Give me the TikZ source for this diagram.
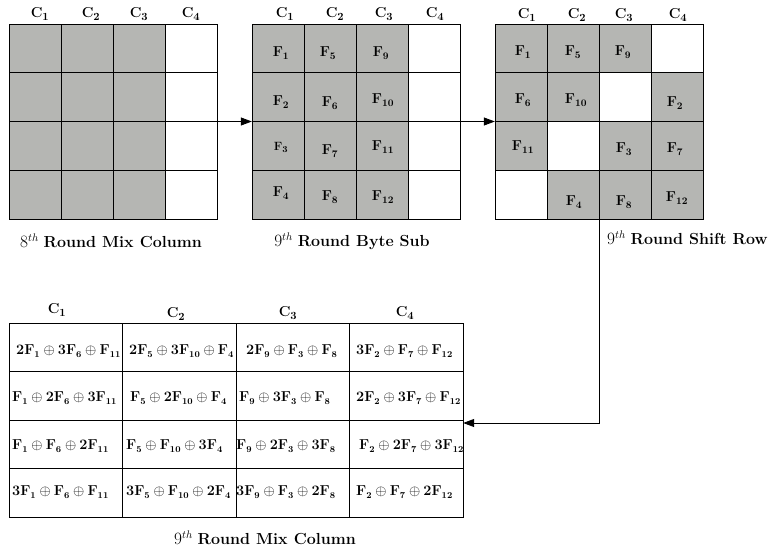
\documentclass[tikz,border=0pt]{standalone}
\usetikzlibrary{arrows.meta}
\definecolor{cellgray}{RGB}{181,182,179}
\begin{document}
\begin{tikzpicture}[x=1pt,y=-1pt,
  cellbox/.style={draw=black,line width=0.7pt,minimum width=52pt,minimum height=48.75pt,inner sep=0pt},
  flab/.style={inner sep=0pt,font=\fontsize{14.5}{17}\selectfont},
  tcell/.style={draw=black,line width=0.7pt,minimum width=113.5pt,minimum height=48.5pt,inner sep=0pt},
  tlab/.style={inner sep=0pt,anchor=west,font=\fontsize{13.3}{16}\selectfont},
  frame/.style={draw=none,inner sep=0pt,minimum width=208pt,minimum height=195pt},
  collab/.style={font=\fontsize{15}{18}\selectfont,inner sep=0pt},
  caption/.style={font=\fontsize{16}{19}\selectfont,inner sep=0pt},
  conn/.style={line width=0.8pt,-{Triangle[length=11pt,width=8pt]}}]
\useasboundingbox (0,0) rectangle (774,548);
% ---------- grid 1 ----------
\foreach \c/\r/\f in {0/0/cellgray,1/0/cellgray,2/0/cellgray,3/0/white,
                      0/1/cellgray,1/1/cellgray,2/1/cellgray,3/1/white,
                      0/2/cellgray,1/2/cellgray,2/2/cellgray,3/2/white,
                      0/3/cellgray,1/3/cellgray,2/3/cellgray,3/3/white}
  \node[cellbox,fill=\f] (a-\r-\c) at ({35+52*\c},{48.375+48.75*\r}) {};
\node[frame] (g1) at (113,121.5) {};
\foreach \c/\x in {1/40,2/91,3/139,4/191}
  \node[collab] (a-c\c) at (\x,14) {$\mathbf{C_{\c}}$};
\node[caption] (cap1) at (111,241) {$8^{th}$ \textbf{Round Mix Column}};
% ---------- grid 2 ----------
\foreach \c/\r/\f in {0/0/cellgray,1/0/cellgray,2/0/cellgray,3/0/white,
                      0/1/cellgray,1/1/cellgray,2/1/cellgray,3/1/white,
                      0/2/cellgray,1/2/cellgray,2/2/cellgray,3/2/white,
                      0/3/cellgray,1/3/cellgray,2/3/cellgray,3/3/white}
  \node[cellbox,fill=\f] (b-\r-\c) at ({278+52*\c},{48.375+48.75*\r}) {};
\foreach \n/\x/\y/\t in {1/281/53/F_1,5/328/53/F_5,9/381/53/F_9,
                         2/281/102/F_2,6/330/103/F_6,10/383/100/F_{10},
                         7/330/151/F_7,11/383/147/F_{11},
                         4/281/193/F_4,8/330/197/F_8,12/383/197/F_{12}}
  \node[flab] (b-f\n) at (\x,\y) {$\mathbf{\t}$};
\node[flab,font=\fontsize{12.5}{15}\selectfont] (b-f3) at (281,147) {$\mathbf{F_3}$};
\node[frame] (g2) at (356,121.5) {};
\foreach \c/\x in {1/285,2/335,3/384,4/435}
  \node[collab] (b-c\c) at (\x,14) {$\mathbf{C_{\c}}$};
\node[caption] (cap2) at (352,241) {$9^{th}$ \textbf{Round Byte Sub}};
% ---------- grid 3 ----------
\foreach \c/\r/\f in {0/0/cellgray,1/0/cellgray,2/0/cellgray,3/0/white,
                      0/1/cellgray,1/1/cellgray,2/1/white,3/1/cellgray,
                      0/2/cellgray,1/2/white,2/2/cellgray,3/2/cellgray,
                      0/3/white,1/3/cellgray,2/3/cellgray,3/3/cellgray}
  \node[cellbox,fill=\f] (c-\r-\c) at ({521+52*\c},{48.375+48.75*\r}) {};
\foreach \n/\x/\y/\t in {1/523/52/F_1,5/573/52/F_5,9/623/52/F_9,
                         6/523/100/F_6,10/576/100/F_{10},2/675/103/F_2,
                         11/523/147/F_{11},3/624/149/F_3,7/675/149/F_7,
                         4/574/202/F_4,8/624/202/F_8,12/677/198/F_{12}}
  \node[flab] (c-f\n) at (\x,\y) {$\mathbf{\t}$};
\node[frame] (g3) at (599,121.5) {};
\foreach \c/\x in {1/527,2/577,3/624,4/678}
  \node[collab] (c-c\c) at (\x,15) {$\mathbf{C_{\c}}$};
\node[caption,anchor=west] (cap3) at (607,238) {$9^{th}$ \textbf{Round Shift Row}};
% ---------- table ----------
\foreach \c/\r in {0/0,1/0,2/0,3/0,0/1,1/1,2/1,3/1,0/2,1/2,2/2,3/2,0/3,1/3,2/3,3/3}
  \node[tcell] (t-\r-\c) at ({65.75+113.5*\c},{347.25+48.5*\r}) {};
\foreach \r/\c/\x/\y/\t in {
  0/0/16/351/{2F_1\oplus 3F_6\oplus F_{11}},
  0/1/129/351/{2F_5\oplus 3F_{10}\oplus F_4},
  0/2/246/351/{2F_9\oplus F_3\oplus F_8},
  0/3/356/351/{3F_2\oplus F_7\oplus F_{12}},
  1/0/12/398/{F_1\oplus 2F_6\oplus 3F_{11}},
  1/1/130/398/{F_5\oplus 2F_{10}\oplus F_4},
  1/2/239/398/{F_9\oplus 3F_3\oplus F_8},
  1/3/356/398/{2F_2\oplus 3F_7\oplus F_{12}},
  2/0/12/446/{F_1\oplus F_6\oplus 2F_{11}},
  2/1/126/446/{F_5\oplus F_{10}\oplus 3F_4},
  2/2/236/446/{F_9\oplus 2F_3\oplus 3F_8},
  2/3/359/446/{F_2\oplus 2F_7\oplus 3F_{12}},
  3/0/12/492/{3F_1\oplus F_6\oplus F_{11}},
  3/1/126/492/{3F_5\oplus F_{10}\oplus 2F_4},
  3/2/236/492/{3F_9\oplus F_3\oplus 2F_8},
  3/3/356/492/{F_2\oplus F_7\oplus 2F_{12}}}
  \node[tlab] (tl-\r-\c) at (\x,\y) {$\mathbf{\t}$};
\node[draw=none,inner sep=0pt,minimum width=454pt,minimum height=194pt] (tb) at (236,420) {};
\foreach \c/\x/\y in {1/57/310,2/176/314,3/288/313,4/405/313}
  \node[collab] (t-c\c) at (\x,\y) {$\mathbf{C_{\c}}$};
\node[caption] (cap4) at (265,538) {$9^{th}$ \textbf{Round Mix Column}};
% ---------- connectors ----------
\draw[conn] (g1.east) -- (g2.west);
\draw[conn] (g2.east) -- (g3.west);
\draw[conn] (g3.south) |- ([yshift=-3pt]tb.east);
\end{tikzpicture}
\end{document}
